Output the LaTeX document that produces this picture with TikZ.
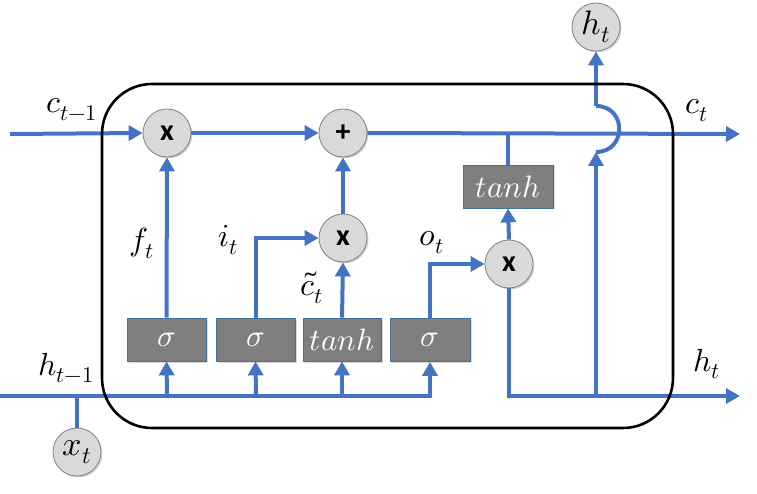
\documentclass[tikz,border=0pt]{standalone}
\usepackage{fontspec}
\usepackage{unicode-math}
\setmathfont{Latin Modern Math}
\newfontfamily\opfont{Carlito}
\usetikzlibrary{arrows.meta,shadows}
\definecolor{lblue}{HTML}{4472C4}
\definecolor{boxgray}{HTML}{7F7F7F}
\definecolor{boxedge}{HTML}{41719C}
\definecolor{circfill}{HTML}{D9D9D9}
\definecolor{circedge}{HTML}{808080}
\tikzset{
  flow/.style={draw=lblue, line width=4pt},
  arr/.style={flow, -{Triangle[length=14pt,width=15pt]}},
  opnode/.style={circle, draw=circedge, line width=0.8pt, fill=circfill, minimum size=48pt, inner sep=0pt,
     font=\opfont\bfseries\fontsize{30}{32}\selectfont,
     drop shadow={shadow xshift=1.5pt, shadow yshift=-1.5pt, opacity=0.35}},
  actbox/.style={rectangle, draw=boxedge, line width=0.8pt, fill=boxgray, minimum height=43pt, minimum width=79pt,
     inner sep=0pt, text=white, font=\fontsize{31}{33}\selectfont,
     drop shadow={shadow xshift=1.5pt, shadow yshift=-1.5pt, opacity=0.3}},
  lbl/.style={inner sep=0pt, font=\fontsize{32}{34}\selectfont},
}
\begin{document}
\begin{tikzpicture}[x=1pt,y=-1pt]
\useasboundingbox (0,0) rectangle (757,494);
% nodes
\node[opnode] (mf) at (167,133) {x};
\node[opnode] (pl) at (343,133) {+};
\node[opnode] (mi) at (343,238) {x};
\node[opnode] (mo) at (509,264) {x};
\node[opnode, font=\fontsize{34}{36}\selectfont] (ht) at (596,27) {$h_t$};
\node[opnode, font=\fontsize{34}{36}\selectfont] (xt) at (77,452) {$x_t$};
\node[actbox] (b1) at (166.5,339.5) {$\sigma$};
\node[actbox] (b2) at (255.5,339.5) {$\sigma$};
\node[actbox, minimum width=78pt] (b3) at (342,339.5) {$tanh$};
\node[actbox, minimum width=80pt] (b4) at (430,340) {$\sigma$};
\node[actbox, minimum width=90pt] (tr) at (508,186.5) {$tanh$};
% coordinates
\coordinate (cin) at (10,134);
\coordinate (cout) at (740,134);
\coordinate (hin) at (0,396);
\coordinate (hx) at (77,396);
\coordinate (h1) at (167,396);
\coordinate (h2) at (256,396);
\coordinate (h3) at (342,396);
\coordinate (hout) at (740,396);
\coordinate (hj) at (596,396);
\coordinate (jb) at (596,152);
\coordinate (jt) at (596,106);
\coordinate (ct) at (508,134);
% cell state
\draw[arr] (cin) -- (mf.west);
\draw[arr] (mf.east) -- (pl.west);
\draw[arr] (pl.east) -- (cout);
% hidden input line
\draw[arr] (hin) -| (b4.south);
\draw[flow] (xt.north) -- (hx);
\draw[arr] (h1) -- (b1.south);
\draw[arr] (h2) -- (b2.south);
\draw[arr] (h3) -- (b3.south);
% gates
\draw[arr] (b1.north) -- (mf.south);
\draw[arr] (b2.north) |- (mi.west);
\draw[arr] (b3.north) -- (mi.south);
\draw[arr] (mi.north) -- (pl.south);
\draw[arr] (b4.north) |- (mo.west);
\draw[flow] (ct) -- (tr.north);
\draw[arr] (mo.north) -- (tr.south);
\draw[arr] (mo.south) |- (hout);
\draw[arr] (hj) -- (jb);
\draw[flow] (jb) .. controls (627,152) and (627,106) .. (jt);
\draw[arr] (jt) -- (ht.south);
% cell border
\draw[line width=2.6pt, rounded corners=50pt] (102,84) rectangle (673,428);
% labels
\node[lbl] (lc1) at (72,110) {$c_{t-1}$};
\node[lbl] (lf) at (142,243) {$f_t$};
\node[lbl] (li) at (228,240) {$i_t$};
\node[lbl] (lct) at (312,288) {$\tilde{c}_t$};
\node[lbl] (lo) at (432,243) {$o_t$};
\node[lbl] (lh1) at (66,368) {$h_{t-1}$};
\node[lbl] (lh) at (707,364) {$h_t$};
\node[lbl] (lc) at (697,111) {$c_t$};
\end{tikzpicture}
\end{document}
